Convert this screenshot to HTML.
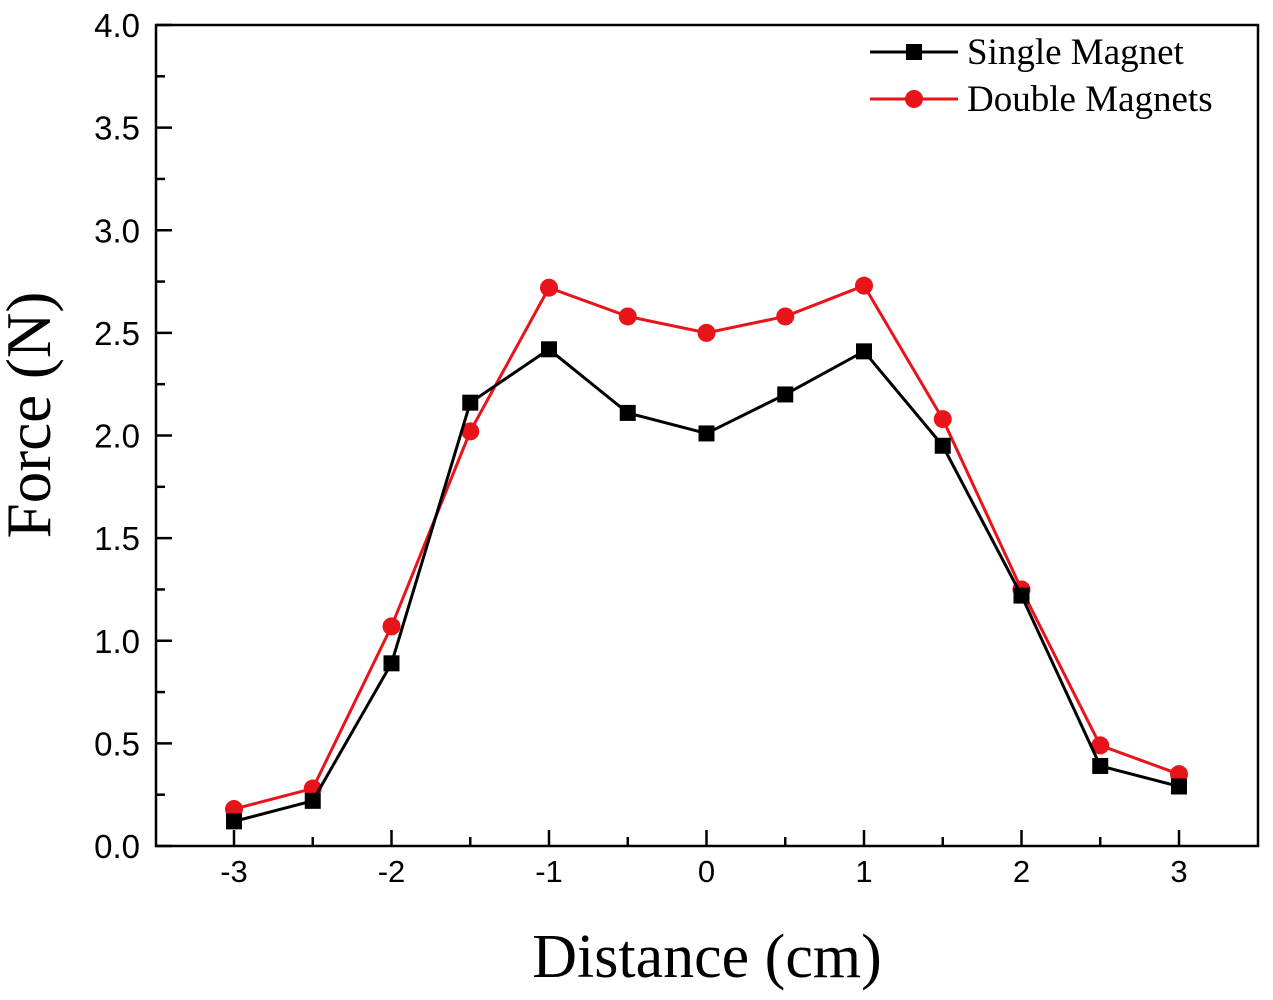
<!DOCTYPE html>
<html><head><meta charset="utf-8"><style>
html,body{margin:0;padding:0;background:#fff;}
svg{display:block;}
</style></head><body>
<svg id="chart" width="1273" height="1000" xmlns="http://www.w3.org/2000/svg"></svg>
<script>
const distances=[-3,-2.5,-2,-1.5,-1,-0.5,0,0.5,1,1.5,2,2.5,3];
const singleMagnet=[0.12,0.22,0.89,2.16,2.42,2.11,2.01,2.20,2.41,1.95,1.22,0.39,0.29];
const doubleMagnets=[0.18,0.28,1.07,2.02,2.72,2.58,2.50,2.58,2.73,2.08,1.25,0.49,0.35];
const xTicks=[-3,-2,-1,0,1,2,3];
const yTicks=[0,0.5,1,1.5,2,2.5,3,3.5,4];
const yTickLabels=["0.0","0.5","1.0","1.5","2.0","2.5","3.0","3.5","4.0"];

const NS="http://www.w3.org/2000/svg";
const svg=document.getElementById('chart');
const L=156,R=1258,T=25,B=846;
const xs=v=>234+(v+3)*157.5;
const ys=v=>B-(v/4)*(B-T);
function mk(tag,attrs,parent){const e=document.createElementNS(NS,tag);for(const k in attrs)e.setAttribute(k,attrs[k]);(parent||svg).appendChild(e);return e;}

const frame=mk('rect',{x:L,y:T,width:R-L,height:B-T,fill:'none',stroke:'#000','stroke-width':2.5});



yTicks.forEach((v,i)=>{
  const t=mk('line',{x1:L,x2:L+16,y1:ys(v),y2:ys(v),stroke:'#000','stroke-width':2.5});
  
  
  if(i<yTicks.length-1){const m=mk('line',{x1:L,x2:L+9,y1:ys(v+0.25),y2:ys(v+0.25),stroke:'#000','stroke-width':2.5});
  
  }
  const tx=mk('text',{x:140,y:ys(v)+12,'text-anchor':'end','font-family':'Liberation Sans, sans-serif','font-size':33});
  tx.textContent=yTickLabels[i];
  
  
});
xTicks.forEach((v,i)=>{
  const t=mk('line',{x1:xs(v),x2:xs(v),y1:B,y2:B-16,stroke:'#000','stroke-width':2.5});
  
  
  if(i<xTicks.length-1){const m=mk('line',{x1:xs(v+0.5),x2:xs(v+0.5),y1:B,y2:B-9,stroke:'#000','stroke-width':2.5});
  
  }
  const tx=mk('text',{x:xs(v),y:B+36,'text-anchor':'middle','font-family':'Liberation Sans, sans-serif','font-size':31});
  tx.textContent=String(v);
  
  
});

function series(vals,color,marker,name){
  const pl=mk('polyline',{points:vals.map((v,i)=>xs(distances[i])+','+ys(v)).join(' '),fill:'none',stroke:color,'stroke-width':3});
  
  
  vals.forEach((v,i)=>{
    let m;
    if(marker==='sq') m=mk('rect',{x:xs(distances[i])-8,y:ys(v)-8,width:16,height:16,fill:color});
    else m=mk('circle',{cx:xs(distances[i]),cy:ys(v),r:9,fill:color});
    
    
  });
}
series(doubleMagnets,'#e8141a','c','double-magnets');
series(singleMagnet,'#000','sq','single-magnet');

const l1=mk('line',{x1:870,x2:958,y1:52,y2:52,stroke:'#000','stroke-width':3});


const lm1=mk('rect',{x:906,y:44,width:16,height:16,fill:'#000'});


const lt1=mk('text',{x:967,y:64,'font-family':'Liberation Serif, serif','font-size':37});
lt1.textContent='Single Magnet';


const l2=mk('line',{x1:870,x2:958,y1:99,y2:99,stroke:'#e8141a','stroke-width':3});


const lm2=mk('circle',{cx:914,cy:99,r:9,fill:'#e8141a'});


const lt2=mk('text',{x:967,y:111,'font-family':'Liberation Serif, serif','font-size':37});
lt2.textContent='Double Magnets';



const xt=mk('text',{x:707,y:977,'text-anchor':'middle','font-family':'Liberation Serif, serif','font-size':62});
xt.textContent='Distance (cm)';


const yt=mk('text',{x:0,y:0,'text-anchor':'middle','font-family':'Liberation Serif, serif','font-size':63,transform:'translate(50,415) rotate(-90)'});
yt.textContent='Force (N)';


</script>
</body></html>
